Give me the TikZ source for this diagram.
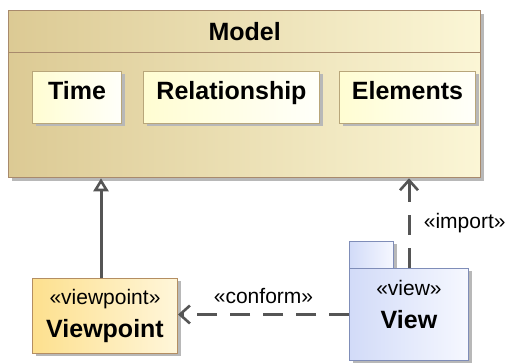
\documentclass[tikz,border=0pt]{standalone}
\usepackage{fontspec}
\setmainfont{Liberation Sans}
\usepackage{tikz}
\usetikzlibrary{positioning, arrows.meta, shadows}

\definecolor{modelL}{HTML}{DCCA94}
\definecolor{modelR}{HTML}{FBF6D6}
\definecolor{modelB}{HTML}{A88A6C}
\definecolor{partL}{HTML}{FFFDD2}
\definecolor{partR}{HTML}{FFFFFA}
\definecolor{partB}{HTML}{B8A67A}
\definecolor{vpL}{HTML}{FDE08E}
\definecolor{vpR}{HTML}{FFF6DA}
\definecolor{vpB}{HTML}{B48E62}
\definecolor{viewL}{HTML}{D2DBF8}
\definecolor{viewR}{HTML}{F6F8FF}
\definecolor{viewB}{HTML}{7F8DB8}
\definecolor{conn}{HTML}{555555}

\tikzset{
  shadowed/.style={drop shadow={shadow xshift=3pt, shadow yshift=-3pt, fill=black!28, opacity=1}},
  modelbox/.style={shadowed, draw=modelB, line width=1.3pt, left color=modelL, right color=modelR},
  partbox/.style={shadowed, draw=partB, line width=1pt, left color=partL, right color=partR,
    font=\fontsize{25}{30}\selectfont\bfseries, minimum height=52pt,
    text height=19pt, text depth=15pt, inner ysep=9pt, inner xsep=0pt},
  vpbox/.style={shadowed, draw=vpB, line width=1pt, left color=vpL, right color=vpR,
    align=center, font=\fontsize{25}{33}\selectfont},
  viewbox/.style={shadowed, draw=viewB, line width=1pt, left color=viewL, right color=viewR},
  stereo/.style={font=\fontsize{21}{25}\selectfont},
  conline/.style={draw=conn, line width=3pt},
  dep/.style={conline, dash pattern=on 20pt off 13pt, -{Straight Barb[length=10pt, width=18pt, line width=2.6pt]}},
  gen/.style={conline, -{Triangle[open, length=13pt, width=15pt, line width=2.6pt]}},
}

\begin{document}
\begin{tikzpicture}[x=1pt, y=-1pt]
\useasboundingbox (0,0) rectangle (509,363);

% model package
\node[modelbox, minimum width=472pt, minimum height=167pt, anchor=north west] (model) at (8,10) {};
\node[draw=modelB, line width=1.3pt, minimum width=472pt, minimum height=42pt, anchor=north west,
  font=\fontsize{25}{30}\selectfont\bfseries] (header) at (model.north west) {Model};

\node[partbox, minimum width=89pt, anchor=north west] (time) at (32,71) {Time};
\node[partbox, minimum width=176pt, right=21pt of time] (rel) {Relationship};
\node[partbox, minimum width=136pt, right=19pt of rel] (elem) {Elements};

% viewpoint and view
\node[vpbox, minimum width=145pt, minimum height=75pt, anchor=north west] (vp) at (32,278)
  {{\fontsize{21}{25}\selectfont «viewpoint»}\\{\bfseries Viewpoint}};

\node[viewbox, minimum width=44pt, minimum height=27pt, anchor=north west] (tab) at (349,241) {};
\node[viewbox, minimum width=119pt, minimum height=92pt, anchor=north west] (view) at (349,268) {};
\node[align=center, font=\fontsize{25}{33}\selectfont, below=9pt of view.north] (viewlbl)
  {{\fontsize{21}{25}\selectfont «view»}\\{\bfseries View}};

% connectors
\draw[gen] ([xshift=-4pt]vp.north) -- ([xshift=-4pt]vp.north |- model.south);
\draw[dep] (view.north) -- (view.north |- model.south)
  node[stereo, pos=0.5, right=10pt] (imp) {«import»};
\draw[dep] (view.west) -- (view.west -| vp.east)
  node[stereo, pos=0.5, above=6pt] (conf) {«conform»};

\end{tikzpicture}
\end{document}
